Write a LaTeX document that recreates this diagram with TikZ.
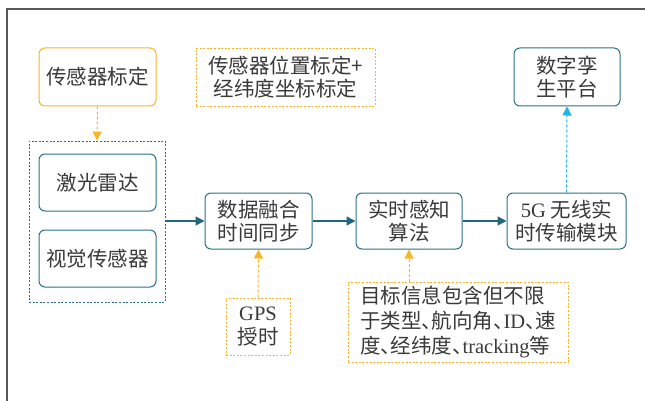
\documentclass[tikz,border=0pt]{standalone}
\usepackage{fontspec}
\setmainfont{Liberation Serif}
\newfontfamily\cjk{Noto Sans CJK SC}
\usetikzlibrary{arrows.meta}
\definecolor{tealc}{HTML}{2A6F8B}
\definecolor{tealarrow}{HTML}{1F6680}
\definecolor{orangec}{HTML}{F9B52A}
\definecolor{cyanc}{HTML}{1EB4EC}
\definecolor{txt}{HTML}{3A3A3A}
\definecolor{framec}{HTML}{5A5A5A}
\newcommand\lat[1]{{\rmfamily #1}}
\newcommand\dun{\makebox[0.5em][l]{、}}
\tikzset{
  base/.style={font={\cjk\fontsize{20.5}{23.5}\selectfont}, text=txt, align=center, inner sep=0pt},
  tealbox/.style={base, draw=tealc, line width=1pt, rounded corners=6pt},
  orangebox/.style={base, draw=orangec, line width=1pt, rounded corners=6pt},
  orangedash/.style={base, draw=orangec, line width=0.9pt, dash pattern=on 2pt off 1.6pt},
  groupbox/.style={draw=tealc, line width=0.9pt, dash pattern=on 2pt off 1.6pt, inner sep=0pt},
  flow/.style={draw=tealarrow, line width=1.3pt, -{Triangle[length=9pt,width=9pt]}},
  oflow/.style={draw=orangec, line width=1pt, dash pattern=on 3pt off 2pt, -{Triangle[length=9pt,width=9pt]}},
  cflow/.style={draw=cyanc, line width=1pt, dash pattern=on 3pt off 2pt, -{Triangle[length=9pt,width=9pt]}},
}
\begin{document}
\begin{tikzpicture}[x=1pt,y=-1pt]
\useasboundingbox (0,0) rectangle (645,401);
\fill[white] (0,0) rectangle (645,401);
% frame
\coordinate (fl) at (7,401);
\coordinate (fc) at (7,9);
\coordinate (fr) at (645,9);
\draw[framec, line width=1.5pt] (fl) -- (fc) -- (fr);

\node[orangebox, minimum width=117pt, minimum height=58pt] (sc) at (97.5,77) {传感器标定};
\node[orangedash, minimum width=179pt, minimum height=58pt] (pos) at (285.5,77) {传感器位置标定+\\经纬度坐标标定};
\node[tealbox, minimum width=106pt, minimum height=58pt] (dt) at (567,77) {数字孪\\生平台};

\node[groupbox, minimum width=136pt, minimum height=161pt] (grp) at (97,221.5) {};
\node[tealbox, minimum width=117pt, minimum height=57pt] (lidar) at (97.5,182.5) {激光雷达};
\node[tealbox, minimum width=117pt, minimum height=57pt] (cam) at (97.5,258.5) {视觉传感器};

\node[tealbox, minimum width=107pt, minimum height=56pt] (fuse) at (258.5,221) {数据融合\\时间同步};
\node[tealbox, minimum width=106pt, minimum height=56pt] (algo) at (409,221) {实时感知\\算法};
\node[tealbox, minimum width=119pt, minimum height=56pt] (g5) at (566.5,221) {\lat{5G} 无线实\\时传输模块};

\node[orangedash, minimum width=64pt, minimum height=57pt] (gps) at (258,326.5) {\lat{GPS}\\授时};
\node[orangedash, minimum width=220pt, minimum height=80pt, font={\cjk\fontsize{20.5}{25}\selectfont}, align=left] (info) at (458,322)
  {目标信息包含但不限\\于类型\dun 航向角\dun\lat{ID}\dun 速\\度\dun 经纬度\dun\lat{tracking}等};

\draw[oflow] (sc.south) -- (grp.north);
\draw[flow] (grp.east |- fuse.west) -- (fuse.west);
\draw[flow] (fuse.east) -- (algo.west);
\draw[flow] (algo.east) -- (g5.west);
\draw[oflow] (gps.north) -- (fuse.south);
\draw[oflow] (algo.south |- info.north) -- (algo.south);
\draw[cflow] (g5.north) -- (dt.south);
\end{tikzpicture}
\end{document}
